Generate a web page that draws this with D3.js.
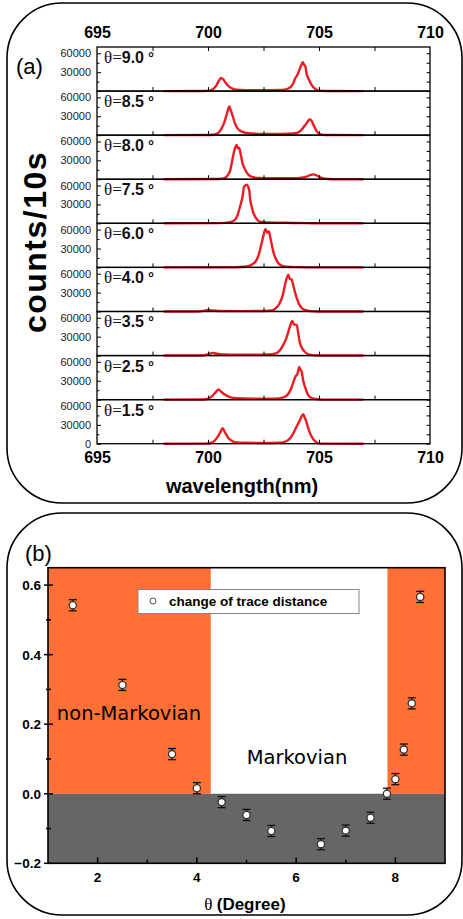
<!DOCTYPE html>
<html>
<head>
<meta charset="utf-8">
<script src="https://cdn.jsdelivr.net/npm/d3@7"></script>
<style>
body { margin: 0; background: #fff; }
svg { display: block; font-family: Arial, "Liberation Sans", sans-serif; }
</style>
</head>
<body>
<svg width="463" height="919"></svg>
<script>
// ---- panel (a) data: spectra, [wavelength nm, counts] ----
var angleLabels = ["9.0", "8.5", "8.0", "7.5", "6.0", "4.0", "3.5", "2.5", "1.5"];

var spec90 = [[698,0],[699.8,100],[700.1,1200],[700.24,3500],[700.38,9000],[700.5,17000],[700.59,21000],[700.68,19000],[700.8,13000],[700.95,7000],[701.1,4000],[701.3,2200],[701.7,1500],[702.5,1300],[703.2,1600],[703.5,2800],[703.7,6000],[703.85,13000],[703.92,20000],[704.0,24000],[704.1,32000],[704.2,41000],[704.27,46000],[704.32,42000],[704.38,40000],[704.44,28000],[704.55,18000],[704.7,8000],[704.85,3000],[705.0,800],[705.3,100],[707,0]];
var spec85 = [[698,0],[700.1,200],[700.35,1500],[700.47,4000],[700.6,10000],[700.75,22000],[700.85,34000],[700.96,45500],[701.02,40000],[701.1,32000],[701.2,20000],[701.35,10000],[701.5,6000],[701.8,3000],[702.3,2000],[703.0,1800],[703.6,2200],[704.0,3500],[704.2,8000],[704.35,15000],[704.42,18000],[704.5,22000],[704.59,25500],[704.68,22000],[704.78,14000],[704.9,6000],[705.05,1800],[705.3,300],[707,0]];
var spec80 = [[698,0],[700.5,300],[700.77,2000],[700.9,7000],[701.0,14000],[701.07,26000],[701.15,40000],[701.22,50000],[701.29,54500],[701.34,49000],[701.4,50000],[701.47,40000],[701.55,26000],[701.67,15600],[701.8,8000],[701.95,4000],[702.3,2000],[703.0,1500],[704.0,1700],[704.4,3500],[704.6,6500],[704.74,7800],[704.9,6000],[705.05,3000],[705.25,800],[705.6,100],[707,0]];
var spec75 = [[698,0],[700.5,300],[701.0,2000],[701.2,5000],[701.32,12000],[701.47,30000],[701.56,43000],[701.62,58000],[701.68,60000],[701.74,61500],[701.8,59000],[701.86,52000],[701.9,38000],[701.97,26000],[702.04,17000],[702.15,9000],[702.34,2500],[702.7,1200],[703.5,800],[704.5,300],[705.5,0],[707,0]];
var spec60 = [[698,0],[701.2,300],[701.74,1500],[702.0,5000],[702.19,12000],[702.3,22000],[702.39,35000],[702.48,48000],[702.55,58000],[702.6,60500],[702.66,55000],[702.72,57000],[702.75,56000],[702.82,45000],[702.94,25000],[703.05,14000],[703.17,6700],[703.35,2500],[703.54,1000],[704,400],[705,0],[707,0]];
var spec40 = [[698,0],[699.5,0],[699.8,900],[700.0,2500],[700.2,1500],[700.5,800],[701.5,600],[702.5,800],[702.87,1500],[703.05,5000],[703.24,14000],[703.35,24000],[703.44,37500],[703.52,50000],[703.58,56000],[703.62,58500],[703.68,52000],[703.77,50500],[703.85,40000],[703.99,22000],[704.1,12000],[704.21,6000],[704.4,2000],[704.6,500],[705,0],[707,0]];
var spec35 = [[698,0],[699.7,200],[699.95,1500],[700.1,3300],[700.21,4200],[700.35,3200],[700.55,2000],[701.0,1500],[702.0,1300],[702.7,1600],[703.09,4000],[703.25,9000],[703.39,17000],[703.5,25000],[703.62,38000],[703.7,47000],[703.8,55000],[703.86,50000],[703.92,49000],[704.0,48500],[704.07,34000],[704.14,20000],[704.25,11000],[704.37,5700],[704.5,2200],[704.7,700],[705,0],[707,0]];
var spec25 = [[698,0],[699.8,200],[700.0,1500],[700.2,6000],[700.35,12000],[700.47,16000],[700.58,13000],[700.75,8000],[700.99,4000],[701.3,2200],[702.0,1500],[703.0,1500],[703.4,3500],[703.62,9400],[703.75,18000],[703.82,25000],[703.96,38000],[704.02,40000],[704.11,52000],[704.17,47000],[704.22,44000],[704.29,30000],[704.4,17000],[704.52,6800],[704.7,2000],[704.9,800],[705.2,0],[707,0]];
var spec15 = [[698,0],[699.9,200],[700.16,1500],[700.3,5000],[700.45,11500],[700.55,18000],[700.66,24500],[700.75,19000],[700.85,13000],[700.92,9000],[701.05,5000],[701.22,2500],[701.6,1500],[702.5,1200],[703.2,1500],[703.45,3000],[703.62,6200],[703.75,11000],[703.88,19000],[704.0,28000],[704.07,32500],[704.15,38000],[704.22,44000],[704.29,47000],[704.35,42000],[704.4,38000],[704.47,30000],[704.58,18000],[704.71,9000],[704.82,4000],[704.95,1000],[705.2,100],[707,0]];

var spectra = [spec90, spec85, spec80, spec75, spec60, spec40, spec35, spec25, spec15];

var wlTicks = [695, 700, 705, 710];
var wlMinor = [697.5, 700, 702.5, 705, 707.5];
var countTicks = [0, 30000, 60000];
var countMinor = [15000, 45000];

// ---- panel (b) data ----
var thetaDeg = [1.5, 2.5, 3.5, 4.0, 4.5, 5.0, 5.5, 6.5, 7.0, 7.5, 7.83, 8.0, 8.17, 8.33, 8.5];
var traceChange = [0.542, 0.313, 0.114, 0.016, -0.024, -0.061, -0.107, -0.145, -0.106, -0.069, 0.0, 0.042, 0.127, 0.26, 0.566];
var traceErr = [0.016, 0.016, 0.016, 0.016, 0.016, 0.016, 0.016, 0.016, 0.016, 0.016, 0.016, 0.016, 0.016, 0.016, 0.016];
var nonMarkovRanges = [[1, 4.28], [7.84, 9]];
var thetaTicks = [2, 4, 6, 8];
var thetaMinor = [3, 5, 7];
var traceTicks = [-0.2, 0.0, 0.2, 0.4, 0.6];
var traceMinor = [-0.1, 0.1, 0.3, 0.5];

var svg = d3.select("svg");

// **** panel (a) ****
svg.append("rect")
    .attr("x", 7).attr("y", 3).attr("width", 455).attr("height", 500)
    .attr("rx", 55).attr("ry", 55)
    .attr("fill", "none").attr("stroke", "#000").attr("stroke-width", 1.6);

var wlScale = d3.scaleLinear().domain([695, 710]).range([97, 430]);
var rowTop = 47, rowH = 44.08;
var cntScale = d3.scaleLinear().domain([0, 70000]).range([rowH, 0]);

var spectrumLine = d3.line()
    .x(function(d) { return wlScale(d[0]); })
    .y(function(d) { return cntScale(d[1]); })
    .curve(d3.curveMonotoneX);

spectra.forEach(function(spec, i) {
    var g = svg.append("g").attr("transform", "translate(0," + (rowTop + i * rowH) + ")");

    g.append("path")
        .datum(spec)
        .attr("d", spectrumLine)
        .attr("fill", "none")
        .attr("stroke", "#ec1c24")
        .attr("stroke-width", 2.4)
        .attr("stroke-linejoin", "round");

    var left = g.append("g")
        .attr("transform", "translate(97,0)")
        .call(d3.axisLeft(cntScale).tickValues(countTicks).tickFormat(d3.format("d"))
            .tickSizeInner(-4).tickSizeOuter(0).tickPadding(6));
    left.select(".domain").remove();
    left.selectAll("text")
        .style("font-size", "11px").style("fill", "#222")
        .attr("opacity", function(d) { return (d === 0 && i < 8) ? 0 : 1; });

    g.append("g").attr("transform", "translate(97,0)")
        .call(d3.axisLeft(cntScale).tickValues(countMinor).tickSize(-2.5).tickFormat(""))
        .select(".domain").remove();
    g.append("g").attr("transform", "translate(430,0)")
        .call(d3.axisRight(cntScale).tickValues(countTicks.concat(countMinor)).tickSize(-3.5).tickFormat(""))
        .select(".domain").remove();
    g.append("g").attr("transform", "translate(0," + rowH + ")")
        .call(d3.axisBottom(wlScale).tickValues(wlMinor).tickSize(-4).tickFormat(""))
        .select(".domain").remove();
    if (i === 0) {
        g.append("g")
            .call(d3.axisTop(wlScale).tickValues(wlMinor).tickSize(-4).tickFormat(""))
            .select(".domain").remove();
    }

    g.append("rect")
        .attr("x", 97).attr("y", 0).attr("width", 333).attr("height", rowH)
        .attr("fill", "none").attr("stroke", "#000").attr("stroke-width", 1.3);

    var lbl = g.append("text").attr("x", 104).attr("y", 16).style("fill", "#111");
    lbl.append("tspan").style("font-family", "'Liberation Serif', 'DejaVu Serif', serif").style("font-size", "17px").text("\u03b8=");
    lbl.append("tspan").style("font-weight", "bold").style("font-size", "16px").text(angleLabels[i]);
    lbl.append("tspan").attr("dx", 4).style("font-weight", "bold").style("font-size", "15px").text("\u00b0");
});

var topAx = svg.append("g").attr("transform", "translate(0," + rowTop + ")")
    .call(d3.axisTop(wlScale).tickValues(wlTicks).tickSize(0).tickPadding(9));
topAx.select(".domain").remove();
topAx.selectAll("text").style("font-size", "16px").style("font-weight", "bold").style("fill", "#000");

var botAx = svg.append("g").attr("transform", "translate(0," + (rowTop + 9 * rowH) + ")")
    .call(d3.axisBottom(wlScale).tickValues(wlTicks).tickSize(0).tickPadding(8));
botAx.select(".domain").remove();
botAx.selectAll("text").style("font-size", "16px").style("font-weight", "bold").style("fill", "#000");

svg.append("text")
    .attr("x", 242).attr("y", 493)
    .attr("text-anchor", "middle")
    .style("font-size", "20px").style("font-weight", "bold")
    .text("wavelength(nm)");

svg.append("text")
    .attr("transform", "translate(46,242) rotate(-90)")
    .attr("text-anchor", "middle")
    .style("font-size", "32px").style("font-weight", "bold")
    .style("letter-spacing", "1.5px")
    .text("counts/10s");

svg.append("text")
    .attr("x", 16).attr("y", 74)
    .style("font-size", "22px")
    .text("(a)");

// **** panel (b) ****
svg.append("rect")
    .attr("x", 7).attr("y", 513).attr("width", 455).attr("height", 402)
    .attr("rx", 55).attr("ry", 55)
    .attr("fill", "none").attr("stroke", "#000").attr("stroke-width", 1.6);

var thScale = d3.scaleLinear().domain([1, 9]).range([48, 445]);
var trScale = d3.scaleLinear().domain([-0.2, 0.65]).range([863.3, 567.7]);

svg.selectAll("rect.nonmark")
    .data(nonMarkovRanges)
    .enter()
    .append("rect")
    .attr("class", "nonmark")
    .attr("x", function(d) { return thScale(d[0]); })
    .attr("y", trScale(0.65))
    .attr("width", function(d) { return thScale(d[1]) - thScale(d[0]); })
    .attr("height", trScale(0) - trScale(0.65))
    .attr("fill", "#ff7036");

svg.append("rect")
    .attr("x", thScale(1)).attr("y", trScale(0))
    .attr("width", thScale(9) - thScale(1))
    .attr("height", trScale(-0.2) - trScale(0))
    .attr("fill", "#666666");

// ticks
svg.selectAll("line.ytick")
    .data(traceTicks.concat(traceMinor))
    .enter()
    .append("line")
    .attr("x1", function(d) { return thScale(1) - (traceTicks.indexOf(d) >= 0 ? 4 : 2); })
    .attr("x2", function(d) { return thScale(1) + (traceTicks.indexOf(d) >= 0 ? 5 : 3); })
    .attr("y1", function(d) { return trScale(d); })
    .attr("y2", function(d) { return trScale(d); })
    .attr("stroke", "#000").attr("stroke-width", 1.5);

svg.selectAll("line.xtick")
    .data(thetaTicks.concat(thetaMinor))
    .enter()
    .append("line")
    .attr("x1", function(d) { return thScale(d); })
    .attr("x2", function(d) { return thScale(d); })
    .attr("y1", trScale(-0.2))
    .attr("y2", function(d) { return trScale(-0.2) - (thetaTicks.indexOf(d) >= 0 ? 6 : 3.5); })
    .attr("stroke", "#000").attr("stroke-width", 1.5);

svg.selectAll("text.ylab")
    .data(traceTicks)
    .enter()
    .append("text")
    .attr("x", 41)
    .attr("y", function(d) { return trScale(d); })
    .attr("dy", "0.36em")
    .attr("text-anchor", "end")
    .style("font-size", "13.5px").style("font-weight", "bold")
    .text(function(d) { return d3.format(".1f")(d); });

svg.selectAll("text.xlab")
    .data(thetaTicks)
    .enter()
    .append("text")
    .attr("x", function(d) { return thScale(d); })
    .attr("y", 882)
    .attr("text-anchor", "middle")
    .style("font-size", "13.5px").style("font-weight", "bold")
    .text(function(d) { return d; });

svg.append("rect")
    .attr("x", thScale(1)).attr("y", trScale(0.65))
    .attr("width", thScale(9) - thScale(1))
    .attr("height", trScale(-0.2) - trScale(0.65))
    .attr("fill", "none").attr("stroke", "#000").attr("stroke-width", 1.6);

// region labels
svg.append("text")
    .attr("x", 129).attr("y", 720)
    .attr("text-anchor", "middle")
    .style("font-family", "'DejaVu Sans', sans-serif").style("font-size", "19.5px")
    .text("non-Markovian");
svg.append("text")
    .attr("x", 297).attr("y", 764)
    .attr("text-anchor", "middle")
    .style("font-family", "'DejaVu Sans', sans-serif").style("font-size", "19.5px")
    .text("Markovian");

// error bars + markers
var pts = svg.selectAll("g.pt")
    .data(thetaDeg)
    .enter()
    .append("g")
    .attr("class", "pt");

pts.append("line")
    .attr("x1", function(d) { return thScale(d); })
    .attr("x2", function(d) { return thScale(d); })
    .attr("y1", function(d, i) { return trScale(traceChange[i] - traceErr[i]); })
    .attr("y2", function(d, i) { return trScale(traceChange[i] + traceErr[i]); })
    .attr("stroke", "#111").attr("stroke-width", 1.3);
[-1, 1].forEach(function(s) {
    pts.append("line")
        .attr("x1", function(d) { return thScale(d) - 4; })
        .attr("x2", function(d) { return thScale(d) + 4; })
        .attr("y1", function(d, i) { return trScale(traceChange[i] + s * traceErr[i]); })
        .attr("y2", function(d, i) { return trScale(traceChange[i] + s * traceErr[i]); })
        .attr("stroke", "#111").attr("stroke-width", 1.3);
});
pts.append("circle")
    .attr("cx", function(d) { return thScale(d); })
    .attr("cy", function(d, i) { return trScale(traceChange[i]); })
    .attr("r", 3.6)
    .attr("fill", "#fff").attr("stroke", "#333").attr("stroke-width", 1.3);

// legend
svg.append("rect")
    .attr("x", 138).attr("y", 589.5).attr("width", 221).attr("height", 24)
    .attr("fill", "#fff").attr("stroke", "#888").attr("stroke-width", 1);
svg.append("circle")
    .attr("cx", 153).attr("cy", 601).attr("r", 3)
    .attr("fill", "#fff").attr("stroke", "#555").attr("stroke-width", 1);
svg.append("text")
    .attr("x", 169).attr("y", 606)
    .style("font-size", "13.5px").style("font-weight", "bold")
    .text("change of trace distance");

svg.append("text")
    .attr("x", 25).attr("y", 561)
    .style("font-size", "22px")
    .text("(b)");

var xt = svg.append("text")
    .attr("x", 245).attr("y", 910)
    .attr("text-anchor", "middle");
xt.append("tspan").style("font-family", "'Liberation Serif', 'DejaVu Serif', serif").style("font-size", "17px").text("\u03b8 ");
xt.append("tspan").style("font-size", "17px").style("font-weight", "bold").text("(Degree)");
</script>
</body>
</html>
